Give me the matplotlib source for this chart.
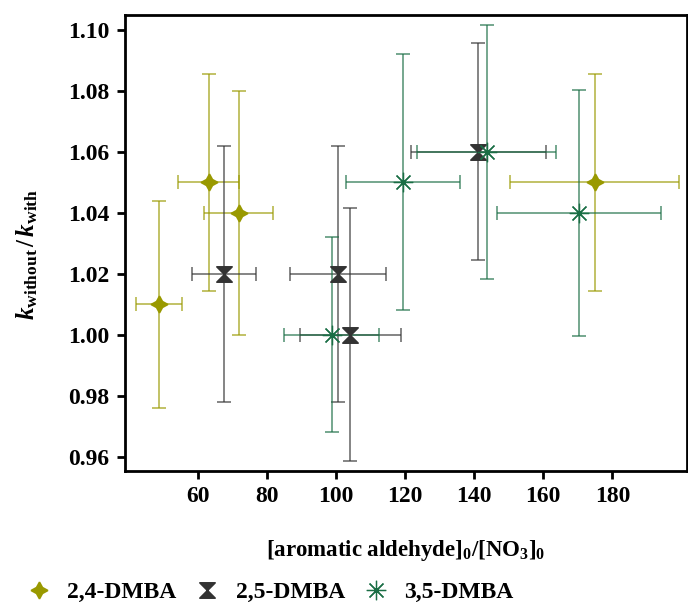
import numpy as np
import matplotlib
matplotlib.use('Agg')
import matplotlib.pyplot as plt
from matplotlib.path import Path
from matplotlib.lines import Line2D

# data
x_24 = [48.9, 63.2, 71.9, 174.9]
y_24 = [1.010, 1.050, 1.040, 1.050]
xerr_24 = [6.7, 8.9, 10.0, 24.4]
yerr_24 = [0.034, 0.0355, 0.040, 0.0355]

x_25 = [67.7, 100.5, 104.2, 141.2]
y_25 = [1.020, 1.020, 1.000, 1.060]
xerr_25 = [9.3, 13.9, 14.5, 19.5]
yerr_25 = [0.042, 0.042, 0.0415, 0.0356]

x_35 = [98.8, 119.5, 143.6, 170.4]
y_35 = [1.000, 1.050, 1.060, 1.040]
xerr_35 = [13.7, 16.5, 20.0, 23.7]
yerr_35 = [0.032, 0.042, 0.0416, 0.0404]

labels = ['2,4-DMBA', '2,5-DMBA', '3,5-DMBA']
colors = ['#999900', '#333333', '#1a6e45']

plt.rcParams['font.family'] = 'Liberation Serif'
plt.rcParams['font.weight'] = 'bold'
plt.rcParams['mathtext.fontset'] = 'custom'
plt.rcParams['mathtext.rm'] = 'Liberation Serif:bold'
plt.rcParams['mathtext.bf'] = 'Liberation Serif:bold'
plt.rcParams['mathtext.it'] = 'Liberation Serif:italic:bold'

# marker shapes
hourglass = Path([(-1, 1), (1, 1), (-1, -1), (1, -1), (-1, 1)],
                 [Path.MOVETO, Path.LINETO, Path.LINETO, Path.LINETO, Path.CLOSEPOLY])
star4 = (4, 1, 0)
asterisk = (8, 2, 0)
markers = [star4, hourglass, asterisk]
msizes = [12, 11, 14]
medges = [1.2, 1.2, 0.9]

fig = plt.figure(figsize=(6.88, 6.02), dpi=100)
ax = fig.add_axes([0.1817, 0.2176, 0.817, 0.7574])

series = [(x_24, y_24, xerr_24, yerr_24), (x_25, y_25, xerr_25, yerr_25),
          (x_35, y_35, xerr_35, yerr_35)]
for (xs, ys, xe, ye), c, m, ms, me in zip(series, colors, markers, msizes, medges):
    ax.errorbar(xs, ys, xerr=xe, yerr=ye, fmt='none', ecolor=c, elinewidth=1.2,
                capsize=5, capthick=1.2, alpha=0.7, zorder=2)
    ax.plot(xs, ys, linestyle='none', marker=m, color=c, markersize=ms,
            markeredgewidth=me, zorder=3)

ax.set_xlim(39, 201.6)
ax.set_ylim(0.9553, 1.1049)
ax.set_xticks(range(60, 181, 20))
ax.set_yticks(np.arange(0.96, 1.101, 0.02))
ax.yaxis.set_major_formatter(matplotlib.ticker.FormatStrFormatter('%.2f'))
ax.tick_params(direction='out', length=6, width=2, labelsize=17, pad=5)
for lab in ax.get_xticklabels() + ax.get_yticklabels():
    lab.set_fontweight('bold')
for s in ax.spines.values():
    s.set_linewidth(2)

ax.set_xlabel('[aromatic aldehyde]$_0$/[NO$_3$]$_0$', fontsize=16.5,
              fontweight='bold', labelpad=22)
ax.set_ylabel(r'$k_{\mathrm{without}}\,/\,k_{\mathrm{with}}$', fontsize=18)
ax.yaxis.set_label_coords(-0.152, 0.476)

handles = [Line2D([], [], linestyle='none', marker=m, color=c, markersize=ms,
                  markeredgewidth=me)
           for m, c, ms, me in zip(markers, colors, msizes, medges)]
fig.legend(handles, labels, loc='lower left', bbox_to_anchor=(0.0, -0.037),
           ncol=3, frameon=False, fontsize=17, handletextpad=0.45,
           columnspacing=0.55, handlelength=1.5)

fig.savefig('out.png', dpi=100)
